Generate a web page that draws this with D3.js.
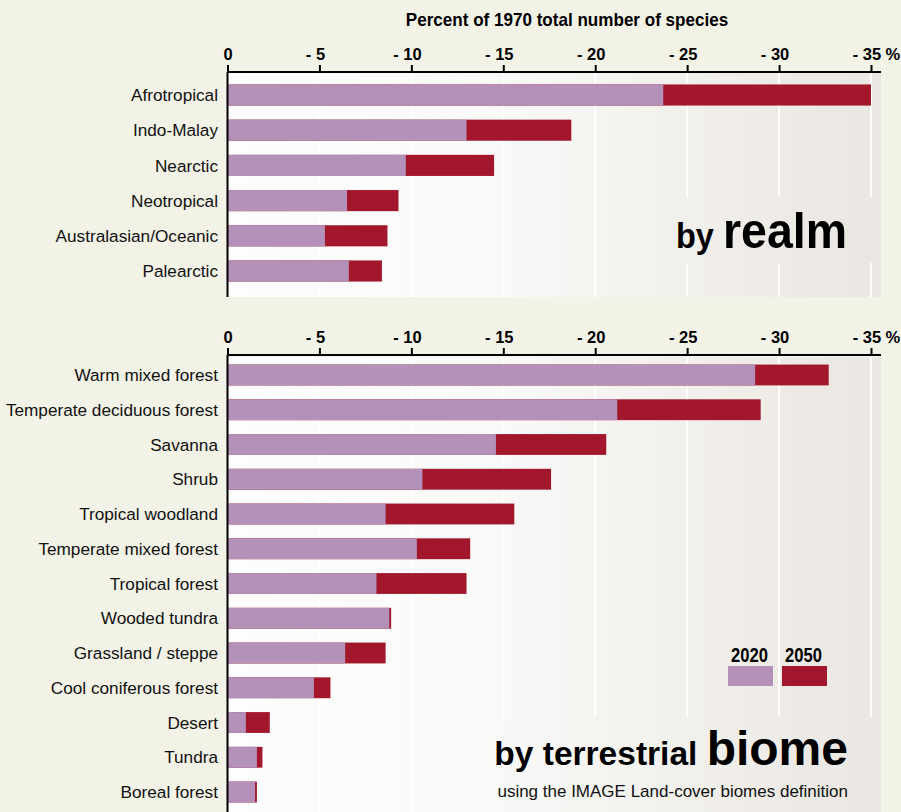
<!DOCTYPE html>
<html>
<head>
<meta charset="utf-8">
<script src="https://cdn.jsdelivr.net/npm/d3@7"></script>
<style>
  html, body { margin: 0; padding: 0; background: #f3f2e7; }
  svg { display: block; }
</style>
</head>
<body>
<svg id="chart" width="901" height="812"></svg>
<script>
// Species loss relative to 1970 (percent), 2020 and 2050
const realms = ["Afrotropical", "Indo-Malay", "Nearctic", "Neotropical", "Australasian/Oceanic", "Palearctic"];
const realm2020 = [23.7, 13.0, 9.7, 6.5, 5.3, 6.6];
const realm2050 = [35.0, 18.7, 14.5, 9.3, 8.7, 8.4];

const biomes = ["Warm mixed forest", "Temperate deciduous forest", "Savanna", "Shrub", "Tropical woodland",
  "Temperate mixed forest", "Tropical forest", "Wooded tundra", "Grassland / steppe",
  "Cool coniferous forest", "Desert", "Tundra", "Boreal forest"];
const biome2020 = [28.7, 21.2, 14.6, 10.6, 8.6, 10.3, 8.1, 8.8, 6.4, 4.7, 1.0, 1.6, 1.5];
const biome2050 = [32.7, 29.0, 20.6, 17.6, 15.6, 13.2, 13.0, 8.9, 8.6, 5.6, 2.3, 1.9, 1.6];

const tickValues = [0, 5, 10, 15, 20, 25, 30, 35];
const years = ["2020", "2050"];
const colors = ["#b491b9", "#a3172d"];

const svg = d3.select("#chart");
const sans = "'Liberation Sans', Arial, sans-serif";

const x = d3.scaleLinear().domain([0, 35]).range([227.5, 871]);
const panelRight = 881;

// panel background gradient, shared across both panels
const defs = svg.append("defs");
const grad = defs.append("linearGradient")
  .attr("id", "panelGrad").attr("gradientUnits", "userSpaceOnUse")
  .attr("x1", 228).attr("x2", panelRight).attr("y1", 0).attr("y2", 0);
grad.append("stop").attr("offset", "0%").attr("stop-color", "#fdfdfd");
grad.append("stop").attr("offset", "40%").attr("stop-color", "#f9f9f8");
grad.append("stop").attr("offset", "70%").attr("stop-color", "#f2f0ec");
grad.append("stop").attr("offset", "100%").attr("stop-color", "#eae6e1");

// horizontally condensed bold text
function condensed(parent, tx, ty, sx, anchor) {
  return parent.append("text")
    .attr("transform", `translate(${tx},${ty}) scale(${sx},1)`)
    .attr("text-anchor", anchor)
    .style("font-family", sans).style("font-weight", "bold").attr("fill", "#000");
}

condensed(svg, 567, 26, 0.97, "middle").style("font-size", "17.6px")
  .text("Percent of 1970 total number of species");

function panel(opts) {
  const { axisY, top, bottom, cats, v2020, v2050, bandTop, bandBottom } = opts;
  const g = svg.append("g");

  // background
  g.append("rect")
    .attr("x", x(0)).attr("y", top)
    .attr("width", panelRight - x(0)).attr("height", bottom - top)
    .attr("fill", "url(#panelGrad)");

  // gridlines
  g.selectAll("line.grid").data(tickValues.filter(d => d > 0)).join("line")
    .attr("class", "grid")
    .attr("x1", d => x(d)).attr("x2", d => x(d))
    .attr("y1", top).attr("y2", bottom)
    .attr("stroke", "#ffffff").attr("stroke-width", 2);

  const y = d3.scaleBand().domain(cats).range([bandTop, bandBottom])
    .paddingInner(0.4).paddingOuter(0.2);

  const rows = cats.map((c, i) => ({ c, a: v2020[i], b: v2050[i] }));
  // 2050 bars drawn first, 2020 on top
  g.selectAll("rect.b50").data(rows).join("rect")
    .attr("x", x(0)).attr("y", d => y(d.c))
    .attr("width", d => x(d.b) - x(0)).attr("height", y.bandwidth())
    .attr("fill", colors[1]);
  g.selectAll("rect.b20").data(rows).join("rect")
    .attr("x", x(0)).attr("y", d => y(d.c))
    .attr("width", d => x(d.a) - x(0)).attr("height", y.bandwidth())
    .attr("fill", colors[0]);

  // category labels
  g.selectAll("text.cat").data(cats).join("text")
    .attr("x", 218).attr("y", d => y(d) + y.bandwidth() / 2)
    .attr("dy", "0.36em")
    .attr("text-anchor", "end")
    .style("font-family", sans).style("font-size", "17.2px").attr("fill", "#111")
    .text(d => d);

  // top axis
  const axis = d3.axisTop(x).tickValues(tickValues).tickSize(7).tickPadding(5.5)
    .tickFormat(d => d === 0 ? "0" : "- " + d);
  const ax = g.append("g").attr("transform", `translate(0,${axisY})`).call(axis);
  ax.select(".domain").attr("d", `M${x(0)},0H${panelRight}`).attr("stroke", "#000").attr("stroke-width", 2);
  ax.selectAll(".tick line").attr("stroke", "#000").attr("stroke-width", 2);
  ax.selectAll(".tick text")
    .attr("dx", d => d === 0 ? 0 : -4.5)
    .style("font-family", sans).style("font-weight", "bold").style("font-size", "16.5px")
    .attr("fill", "#000");
  ax.append("text")
    .attr("x", x(35) + 14.5).attr("y", -12.5)
    .attr("text-anchor", "start")
    .style("font-family", sans).style("font-weight", "bold").style("font-size", "16.5px")
    .attr("fill", "#000").text("%");

  // left axis line
  g.append("line")
    .attr("x1", x(0)).attr("x2", x(0)).attr("y1", axisY).attr("y2", bottom)
    .attr("stroke", "#000").attr("stroke-width", 2);

  return g;
}

// by realm
const realmPanel = panel({
  axisY: 72, top: 73, bottom: 297,
  cats: realms, v2020: realm2020, v2050: realm2050,
  bandTop: 77.4, bandBottom: 288.6
});
realmPanel.append("rect")
  .attr("x", 650).attr("y", 197).attr("width", panelRight - 650).attr("height", 66)
  .attr("fill", "url(#panelGrad)");
const realmTitle = condensed(realmPanel, 847, 248, 0.93, "end");
realmTitle.append("tspan").style("font-size", "35px").text("by ");
realmTitle.append("tspan").style("font-size", "50px").text("realm");

// by terrestrial biome
const biomePanel = panel({
  axisY: 355, top: 357, bottom: 812,
  cats: biomes, v2020: biome2020, v2050: biome2050,
  bandTop: 357.6, bandBottom: 809.4
});
biomePanel.append("rect")
  .attr("x", 470).attr("y", 717).attr("width", panelRight - 470).attr("height", 95)
  .attr("fill", "url(#panelGrad)");
const biomeTitle = biomePanel.append("text")
  .attr("x", 848).attr("y", 765).attr("text-anchor", "end")
  .style("font-family", sans).style("font-weight", "bold").attr("fill", "#000");
biomeTitle.append("tspan").style("font-size", "33.5px").text("by terrestrial ");
biomeTitle.append("tspan").style("font-size", "48px").text("biome");
biomePanel.append("text")
  .attr("x", 848).attr("y", 797).attr("text-anchor", "end")
  .style("font-family", sans).style("font-size", "17px").attr("fill", "#111")
  .text("using the IMAGE Land-cover biomes definition");

// legend
const legend = svg.append("g");
const legendX = [728, 782];
years.forEach((yr, i) => {
  legend.append("rect")
    .attr("x", legendX[i]).attr("y", 666).attr("width", 45).attr("height", 20)
    .attr("fill", colors[i]);
  condensed(legend, legendX[i] + 21.5, 661.5, 0.83, "middle")
    .style("font-size", "20px").text(yr);
});
</script>
</body>
</html>
